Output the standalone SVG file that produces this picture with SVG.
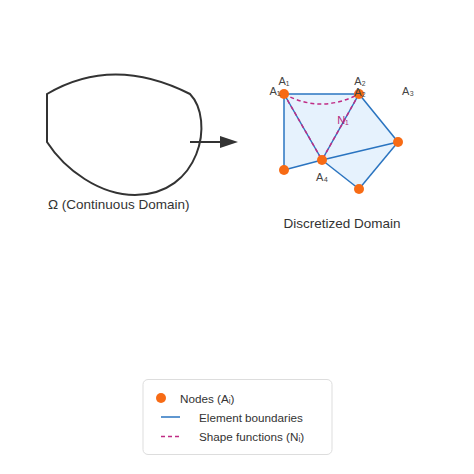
<svg xmlns="http://www.w3.org/2000/svg" width="474" height="474" viewBox="0 0 474 474">
<style>
text{font-family:"Liberation Sans",Arial,sans-serif;fill:#333}
.t14{font-size:13.5px}
.lab{font-size:11px;fill:#444}
.leg{font-size:11.7px}
.edge{stroke:#2a74c0;stroke-width:1.5;fill:none}
.shape{stroke:#c02c85;stroke-width:1.5;stroke-dasharray:4,3;fill:none}
.node{fill:#f76b15}
</style>
<defs>
<marker id="ah" viewBox="0 0 18 12" refX="0" refY="6" markerWidth="18" markerHeight="12" markerUnits="userSpaceOnUse" orient="auto">
<path d="M0,0L18,6L0,12z" fill="#333"/>
</marker>
</defs>
<rect width="474" height="474" fill="#fff"/>
<g id="continuous-domain">
<path d="M47,94 Q113,55 190,94 C215,120 200,195 135,195 C100,195 65,170 47,142 Z" fill="none" stroke="#333" stroke-width="2"/>
<text class="t14" x="48" y="209">Ω (Continuous Domain)</text>
</g>
<g id="connectors">
<line x1="190" y1="142" x2="220" y2="142" stroke="#333" stroke-width="2" marker-end="url(#ah)"/>
</g>
<g id="mesh">
<polygon points="284,94 359,94 398,142 359,189 322,160 284,170" fill="#e6f2fd"/>
<g id="elements">
<line class="edge" x1="284" y1="94" x2="359" y2="94"/>
<line class="edge" x1="284" y1="94" x2="284" y2="170"/>
<line class="edge" x1="284" y1="170" x2="322" y2="160"/>
<line class="edge" x1="284" y1="94" x2="322" y2="160"/>
<line class="edge" x1="359" y1="94" x2="322" y2="160"/>
<line class="edge" x1="359" y1="94" x2="398" y2="142"/>
<line class="edge" x1="322" y1="160" x2="398" y2="142"/>
<line class="edge" x1="322" y1="160" x2="359" y2="189"/>
<line class="edge" x1="359" y1="189" x2="398" y2="142"/>
</g>
<g id="shape-functions">
<path class="shape" d="M284,94 Q321,114 359,94"/>
<line class="shape" x1="284" y1="94" x2="322" y2="160"/>
<line class="shape" x1="359" y1="94" x2="322" y2="160"/>
</g>
<g id="nodes">
<circle class="node" cx="284" cy="94" r="5"/>
<circle class="node" cx="359" cy="94" r="5"/>
<circle class="node" cx="398" cy="142" r="5"/>
<circle class="node" cx="322" cy="160" r="5"/>
<circle class="node" cx="284" cy="170" r="5"/>
<circle class="node" cx="359" cy="189" r="5"/>
</g>
<g id="labels">
<text class="lab" x="284" y="85" text-anchor="middle">A₁</text>
<text class="lab" x="275" y="95" text-anchor="middle">A₁</text>
<text class="lab" x="360" y="85" text-anchor="middle">A₂</text>
<text class="lab" x="360" y="96" text-anchor="middle">A₂</text>
<text class="lab" x="408" y="95" text-anchor="middle">A₃</text>
<text class="lab" x="322" y="181" text-anchor="middle">A₄</text>
<text class="lab" x="343" y="124" text-anchor="middle" style="fill:#b0287e">N₁</text>
</g>
<text class="t14" x="342" y="228" text-anchor="middle">Discretized Domain</text>
</g>
<g id="legend">
<rect x="143" y="379.5" width="189" height="75" rx="5" fill="#fff" stroke="#ddd" stroke-width="1"/>
<circle class="node" cx="161" cy="398" r="5"/>
<text class="leg" x="180" y="403">Nodes (Aᵢ)</text>
<line class="edge" x1="161" y1="417" x2="180" y2="417"/>
<text class="leg" x="199" y="422">Element boundaries</text>
<line class="shape" x1="161" y1="436.5" x2="180" y2="436.5"/>
<text class="leg" x="199" y="441">Shape functions (Nᵢ)</text>
</g>
</svg>
